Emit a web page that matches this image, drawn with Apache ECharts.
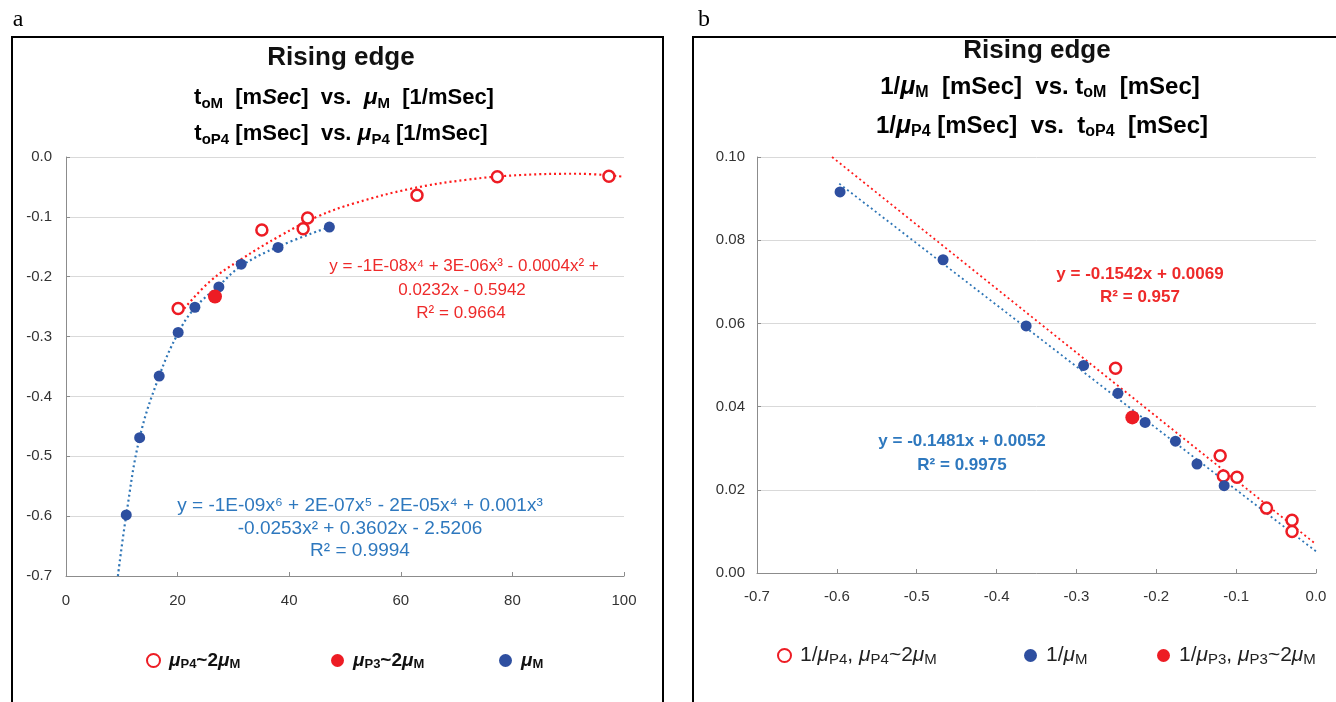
<!DOCTYPE html>
<html>
<head>
<meta charset="utf-8">
<script src="https://cdn.jsdelivr.net/npm/echarts@6/dist/echarts.min.js"></script>
<style>html,body{margin:0;padding:0;background:#fff;}#c{width:1336px;height:702px;}</style>
</head>
<body>
<div id="c"></div>
<script>
// ---------- Panel a data : t (mSec) vs mu (1/mSec) ----------
const aP4_t  = [20.1, 35.1, 42.5, 43.3, 62.9, 77.3, 97.3];
const aP4_mu = [-0.253, -0.122, -0.120, -0.102, -0.064, -0.033, -0.032];
const aP3_t  = [26.7];
const aP3_mu = [-0.233];
const aM_t   = [10.8, 13.2, 16.7, 20.1, 23.1, 27.4, 31.4, 38.0, 47.2];
const aM_mu  = [-0.598, -0.469, -0.366, -0.293, -0.251, -0.217, -0.179, -0.151, -0.117];
// trendline traces
const aTrendP4_t  = [21.2, 25.9, 31.2, 38.5, 45.2, 51.8, 61.8, 71.8, 81.7, 91.7, 100];
const aTrendP4_mu = [-0.253, -0.207, -0.172, -0.131, -0.099, -0.077, -0.053, -0.038, -0.030, -0.028, -0.033];
const aTrendM_t   = [9.3, 10.8, 13.2, 16.7, 20.1, 23.1, 27.4, 31.4, 38.0, 47.5];
const aTrendM_mu  = [-0.700, -0.598, -0.469, -0.366, -0.294, -0.252, -0.215, -0.182, -0.150, -0.116];
const aXTicks = [0, 20, 40, 60, 80, 100];

// ---------- Panel b data : mu vs 1/t ----------
const bP4_mu  = [-0.251, -0.120, -0.116, -0.099, -0.062, -0.030, -0.030];
const bP4_inv = [0.0492, 0.0282, 0.0233, 0.0230, 0.0156, 0.0127, 0.0100];
const bM_mu   = [-0.596, -0.467, -0.363, -0.291, -0.248, -0.214, -0.176, -0.149, -0.115];
const bM_inv  = [0.0916, 0.0753, 0.0594, 0.0499, 0.0432, 0.0362, 0.0317, 0.0262, 0.0210];
const bP3_mu  = [-0.230];
const bP3_inv = [0.0374];
const bTrendP4_mu  = [-0.606, 0.0];
const bTrendP4_inv = [0.1000, 0.0069];
const bTrendM_mu   = [-0.597, 0.0];
const bTrendM_inv  = [0.0936, 0.0052];

const zip = (xs, ys) => xs.map((x, i) => [x, ys[i]]);

const RED = '#ED1C24', REDLINE = '#FF1A1A', BLUE = '#2E4FA0', BLUELINE = '#2E75B6';
const REDTXT = '#EE2A2A', BLUETXT = '#2E78BE';
const FONT = '"Liberation Sans", Arial, sans-serif';

const chart = echarts.init(document.getElementById('c'), null, {renderer: 'canvas'});

const axisCommon = {
  axisLine: {show: true, onZero: false, lineStyle: {color: '#8c8c8c', width: 1}},
  axisTick: {show: true, inside: true, length: 4, lineStyle: {color: '#8c8c8c'}},
  splitLine: {show: true, lineStyle: {color: '#d9d9d9', width: 1}},
  axisLabel: {color: '#333', fontSize: 15, fontFamily: FONT}
};

function titleRich(c1, c2, fs, ss) {
  return {
    n: {fontSize: fs, fontWeight: 'bold', color: '#111', fontFamily: FONT, lineHeight: 30},
    ni: {fontSize: fs, fontWeight: 'bold', fontStyle: 'italic', color: '#111', fontFamily: FONT, lineHeight: 30},
    tb: {fontSize: fs, fontWeight: 'bold', color: c1, fontFamily: FONT, lineHeight: 30},
    sb: {fontSize: ss, fontWeight: 'bold', color: c1, fontFamily: FONT, lineHeight: 30, padding: [12, 0, 0, 0]},
    mb: {fontSize: fs + 1, fontWeight: 'bold', fontStyle: 'italic', color: c2, fontFamily: FONT, lineHeight: 30},
    ms: {fontSize: ss, fontWeight: 'bold', color: c2, fontFamily: FONT, lineHeight: 30, padding: [12, 0, 0, 0]}
  };
}

function txt(x, y, text, opts) {
  return {type: 'text', x: x, y: y, silent: true, z: 100,
    style: Object.assign({text: text, align: 'center', verticalAlign: 'middle', fontFamily: FONT}, opts)};
}

const legendRichA = {
  mu: {fontSize: 19, fontWeight: 'bold', fontStyle: 'italic', color: '#111', fontFamily: FONT},
  n: {fontSize: 19, fontWeight: 'bold', color: '#111', fontFamily: FONT},
  s: {fontSize: 13, fontWeight: 'bold', color: '#111', fontFamily: FONT, padding: [8, 0, 0, 0]}
};
const legendRichB = {
  mu: {fontSize: 21, fontStyle: 'italic', color: '#222', fontFamily: FONT},
  n: {fontSize: 21, color: '#222', fontFamily: FONT},
  s: {fontSize: 15, color: '#222', fontFamily: FONT, padding: [8, 0, 0, 0]}
};
const legendFmt = {
  'aP4': '{mu|μ}{s|P4}{n|~2}{mu|μ}{s|M}',
  'aP3': '{mu|μ}{s|P3}{n|~2}{mu|μ}{s|M}',
  'aM': '{mu|μ}{s|M}',
  'bP4': '{n|1/}{mu|μ}{s|P4}{n|, }{mu|μ}{s|P4}{n|~2}{mu|μ}{s|M}',
  'bM': '{n|1/}{mu|μ}{s|M}',
  'bP3': '{n|1/}{mu|μ}{s|P3}{n|, }{mu|μ}{s|P3}{n|~2}{mu|μ}{s|M}'
};
function legend(name, left, top, rich) {
  return {data: [name], left: left, top: top, itemWidth: 13, itemHeight: 13, itemGap: 0,
    icon: 'circle', selectedMode: false, padding: 0,
    formatter: n => legendFmt[n], textStyle: {rich: rich, padding: [0, 0, 0, 4]}};
}

const option = {
  animation: false,
  backgroundColor: '#fff',
  grid: [
    {left: 66, top: 157, width: 558, height: 419},
    {left: 757, top: 157, width: 559, height: 416}
  ],
  xAxis: [
    Object.assign({}, axisCommon, {gridIndex: 0, type: 'value', min: aXTicks[0], max: aXTicks[aXTicks.length - 1], interval: 20,
      splitLine: {show: false},
      axisLabel: Object.assign({}, axisCommon.axisLabel, {margin: 17})}),
    Object.assign({}, axisCommon, {gridIndex: 1, type: 'value', min: -0.7, max: 0, interval: 0.1,
      splitLine: {show: false},
      axisLabel: Object.assign({}, axisCommon.axisLabel, {margin: 16, formatter: v => (Math.abs(v) < 1e-9 ? 0 : v).toFixed(1)})})
  ],
  yAxis: [
    Object.assign({}, axisCommon, {gridIndex: 0, type: 'value', min: -0.7, max: 0, interval: 0.1,
      axisLabel: Object.assign({}, axisCommon.axisLabel, {margin: 14, formatter: v => (Math.abs(v) < 1e-9 ? 0 : v).toFixed(1)})}),
    Object.assign({}, axisCommon, {gridIndex: 1, type: 'value', min: 0, max: 0.1, interval: 0.02,
      axisLabel: Object.assign({}, axisCommon.axisLabel, {margin: 12, formatter: v => v.toFixed(2)})})
  ],
  legend: [
    legend('aP4', 146, 651, legendRichA),
    legend('aP3', 331, 651, legendRichA),
    legend('aM', 499, 651, legendRichA),
    legend('bP4', 777, 645, legendRichB),
    legend('bM', 1024, 645, legendRichB),
    legend('bP3', 1157, 645, legendRichB)
  ],
  series: [
    {type: 'line', xAxisIndex: 0, yAxisIndex: 0, data: zip(aTrendP4_t, aTrendP4_mu), smooth: 0.4, showSymbol: false, silent: true,
      lineStyle: {color: REDLINE, width: 2.2, type: [2, 3]}, z: 2},
    {type: 'line', xAxisIndex: 0, yAxisIndex: 0, data: zip(aTrendM_t, aTrendM_mu), smooth: 0.4, showSymbol: false, silent: true,
      lineStyle: {color: BLUELINE, width: 2.2, type: [2, 3]}, z: 2},
    {name: 'aP4', type: 'scatter', xAxisIndex: 0, yAxisIndex: 0, data: zip(aP4_t, aP4_mu), symbol: 'circle', symbolSize: 11,
      itemStyle: {color: '#fff', borderColor: RED, borderWidth: 2.5, opacity: 1}, z: 5},
    {name: 'aP3', type: 'scatter', xAxisIndex: 0, yAxisIndex: 0, data: zip(aP3_t, aP3_mu), symbol: 'circle', symbolSize: 14,
      itemStyle: {color: RED, opacity: 1}, z: 6},
    {name: 'aM', type: 'scatter', xAxisIndex: 0, yAxisIndex: 0, data: zip(aM_t, aM_mu), symbol: 'circle', symbolSize: 11,
      itemStyle: {color: BLUE, opacity: 1}, z: 5},

    {type: 'line', xAxisIndex: 1, yAxisIndex: 1, data: zip(bTrendP4_mu, bTrendP4_inv), showSymbol: false, silent: true,
      lineStyle: {color: REDLINE, width: 1.8, type: [2, 3]}, z: 2},
    {type: 'line', xAxisIndex: 1, yAxisIndex: 1, data: zip(bTrendM_mu, bTrendM_inv), showSymbol: false, silent: true,
      lineStyle: {color: BLUELINE, width: 1.8, type: [2, 3]}, z: 2},
    {name: 'bP4', type: 'scatter', xAxisIndex: 1, yAxisIndex: 1, data: zip(bP4_mu, bP4_inv), symbol: 'circle', symbolSize: 11,
      itemStyle: {color: '#fff', borderColor: RED, borderWidth: 2.5, opacity: 1}, z: 5},
    {name: 'bM', type: 'scatter', xAxisIndex: 1, yAxisIndex: 1, data: zip(bM_mu, bM_inv), symbol: 'circle', symbolSize: 11,
      itemStyle: {color: BLUE, opacity: 1}, z: 5},
    {name: 'bP3', type: 'scatter', xAxisIndex: 1, yAxisIndex: 1, data: zip(bP3_mu, bP3_inv), symbol: 'circle', symbolSize: 14,
      itemStyle: {color: RED, opacity: 1}, z: 6}
  ],
  graphic: [
    // panel frames
    {type: 'rect', shape: {x: 12, y: 37, width: 651, height: 700}, style: {fill: null, stroke: '#000', lineWidth: 2}, silent: true, z: -1},
    {type: 'rect', shape: {x: 693, y: 37, width: 700, height: 700}, style: {fill: null, stroke: '#000', lineWidth: 2}, silent: true, z: -1},
    txt(18, 20, 'a', {fontFamily: '"Liberation Serif", "Times New Roman", serif', fontSize: 24, fill: '#000'}),
    txt(704, 20, 'b', {fontFamily: '"Liberation Serif", "Times New Roman", serif', fontSize: 24, fill: '#000'}),
    // titles panel a
    txt(341, 58, 'Rising edge', {fontSize: 26, fontWeight: 'bold', fill: '#111'}),
    txt(344, 98, '{tb|t}{sb|oM}{n|  [m}{ni|Sec}{n|]  vs.  }{mb|μ}{ms|M}{n|  [1/mSec]}', {rich: titleRich('#2E75B6', '#4472C4', 22, 15)}),
    txt(341, 134, '{tb|t}{sb|oP4}{n| [mSec]  vs. }{mb|μ}{ms|P4}{n| [1/mSec]}', {rich: titleRich('#FF0000', '#FF0000', 22, 15)}),
    // titles panel b
    txt(1037, 51, 'Rising edge', {fontSize: 26, fontWeight: 'bold', fill: '#111'}),
    txt(1040, 87, '{n|1/}{mb|μ}{ms|M}{n|  [mSec]  vs. }{tb|t}{sb|oM}{n|  [mSec]}', {rich: titleRich('#2E75B6', '#4472C4', 24, 16)}),
    txt(1042, 126, '{n|1/}{mb|μ}{ms|P4}{n| [mSec]  vs.  }{tb|t}{sb|oP4}{n|  [mSec]}', {rich: titleRich('#FF0000', '#FF0000', 24, 16)}),
    // equations panel a
    txt(464, 266, 'y = -1E-08x⁴ + 3E-06x³ - 0.0004x² +', {fontSize: 17, fill: REDTXT}),
    txt(462, 290, '0.0232x - 0.5942', {fontSize: 17, fill: REDTXT}),
    txt(461, 313, 'R² = 0.9664', {fontSize: 17, fill: REDTXT}),
    txt(360, 506, 'y = -1E-09x⁶ + 2E-07x⁵ - 2E-05x⁴ + 0.001x³', {fontSize: 19, fill: BLUETXT}),
    txt(360, 529, '-0.0253x² + 0.3602x - 2.5206', {fontSize: 19, fill: BLUETXT}),
    txt(360, 551, 'R² = 0.9994', {fontSize: 19, fill: BLUETXT}),
    // equations panel b
    txt(1140, 274, 'y = -0.1542x + 0.0069', {fontSize: 17, fontWeight: 'bold', fill: REDTXT}),
    txt(1140, 297, 'R² = 0.957', {fontSize: 17, fontWeight: 'bold', fill: REDTXT}),
    txt(962, 441, 'y = -0.1481x + 0.0052', {fontSize: 17, fontWeight: 'bold', fill: BLUETXT}),
    txt(962, 465, 'R² = 0.9975', {fontSize: 17, fontWeight: 'bold', fill: BLUETXT})
  ]
};
chart.setOption(option);
</script>
</body>
</html>
